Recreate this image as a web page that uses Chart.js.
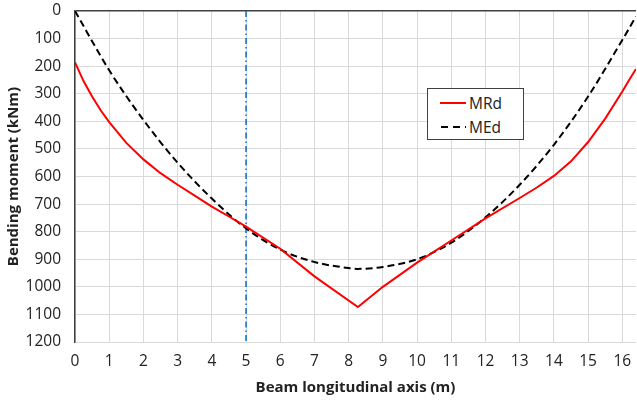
<!DOCTYPE html>
<html>
<head>
<meta charset="utf-8">
<script src="https://cdn.jsdelivr.net/npm/chart.js@4"></script>
<style>
  body { margin: 0; background: #fff; }
  #wrap { position: relative; width: 637px; height: 401px; }
  #legend {
    position: absolute; left: 427px; top: 88px; width: 95px; height: 50px;
    border: 1.5px solid #404040; background: #fff;
    font-family: "Open Sans", sans-serif; font-size: 15.5px; color: #222;
  }
  #legend .row { position: absolute; left: 12px; height: 20px; display: flex; align-items: center; }
  #legend svg { margin-right: 3px; }
</style>
</head>
<body>
<div id="wrap">
  <canvas id="myChart" width="637" height="401"></canvas>
  <div id="legend">
    <div class="row" style="top:4px"><svg width="26" height="4"><line x1="0" y1="2" x2="26" y2="2" stroke="#ff0000" stroke-width="2"/></svg>MRd</div>
    <div class="row" style="top:28px"><svg width="26" height="4"><line x1="1" y1="2" x2="26" y2="2" stroke="#000" stroke-width="2" stroke-dasharray="7,5"/></svg>MEd</div>
  </div>
</div>
<script>
const ctx = document.getElementById('myChart');

// MRd - resisting moment along the beam
const mrdX = [0, 0.25, 0.5, 0.75, 1, 1.5, 2, 2.5, 3, 3.5, 4, 4.5, 5, 6, 7, 8.27, 9, 10, 11, 12, 13, 13.5, 14, 14.5, 15, 15.5, 16, 16.2, 16.4];
const mrdY = [186, 254, 310, 360, 403, 478, 538, 588, 630, 669, 709, 745, 782, 862, 962, 1073, 1000, 912, 832, 752, 678, 640, 598, 545, 475, 390, 292, 250, 210];

// MEd - design moment along the beam
const medX = [0, 1, 2, 3, 4, 5, 6, 7, 8, 8.25, 9, 10, 11, 12, 13, 14, 15, 16, 16.4];
const medY = [0, 215, 395, 550, 680, 788, 865, 910, 932, 935, 928, 900, 840, 748, 630, 485, 310, 105, 20];

// vertical reference line at x = 5 m
const refX = [5, 5];
const refY = [0, 1200];

const toPoints = (xs, ys) => xs.map((x, i) => ({ x: x, y: ys[i] }));

const font = { family: '"Open Sans", sans-serif', size: 15.5 };
const titleFont = { family: '"Open Sans", sans-serif', size: 15, weight: 'bold' };

new Chart(ctx, {
  type: 'line',
  data: {
    datasets: [
      {
        label: 'MRd',
        data: toPoints(mrdX, mrdY),
        borderColor: '#ff0000',
        borderWidth: 2,
        pointRadius: 0,
        tension: 0
      },
      {
        label: 'MEd',
        data: toPoints(medX, medY),
        borderColor: '#000000',
        borderWidth: 2,
        borderDash: [7, 4],
        pointRadius: 0,
        cubicInterpolationMode: 'monotone'
      },
      {
        label: 'ref',
        data: toPoints(refX, refY),
        borderColor: '#0070c0',
        borderWidth: 1.5,
        borderDash: [6, 3, 1.5, 3],
        pointRadius: 0
      }
    ]
  },
  options: {
    responsive: false,
    animation: false,
    layout: { padding: 0 },
    plugins: {
      legend: { display: false },
      tooltip: { enabled: false }
    },
    scales: {
      x: {
        type: 'linear',
        min: 0,
        max: 16.4,
        afterFit: s => { s.height = 59; s.paddingLeft = 0; s.paddingRight = 1; },
        ticks: { stepSize: 1, includeBounds: false, padding: 10, color: '#222', font: font },
        grid: { color: '#d9d9d9', lineWidth: 1, drawTicks: false },
        border: { display: false },
        title: {
          display: true,
          text: 'Beam longitudinal axis (m)',
          color: '#222',
          font: titleFont,
          padding: { bottom: 4 }
        }
      },
      y: {
        min: 0,
        max: 1200,
        reverse: true,
        afterFit: s => { s.width = 75; s.paddingTop = 11; s.paddingBottom = 0; },
        ticks: { stepSize: 100, padding: 14, color: '#222', font: font, callback: v => String(v) },
        grid: {
          color: c => (c.tick && c.tick.value === 0 ? '#404040' : '#d9d9d9'),
          lineWidth: c => (c.tick && c.tick.value === 0 ? 1.5 : 1),
          drawTicks: false
        },
        border: { display: true, color: '#404040', width: 1.5 },
        title: {
          display: true,
          text: 'Bending moment (kNm)',
          color: '#222',
          font: titleFont,
          padding: { top: 5 }
        }
      }
    }
  }
});
</script>
</body>
</html>
